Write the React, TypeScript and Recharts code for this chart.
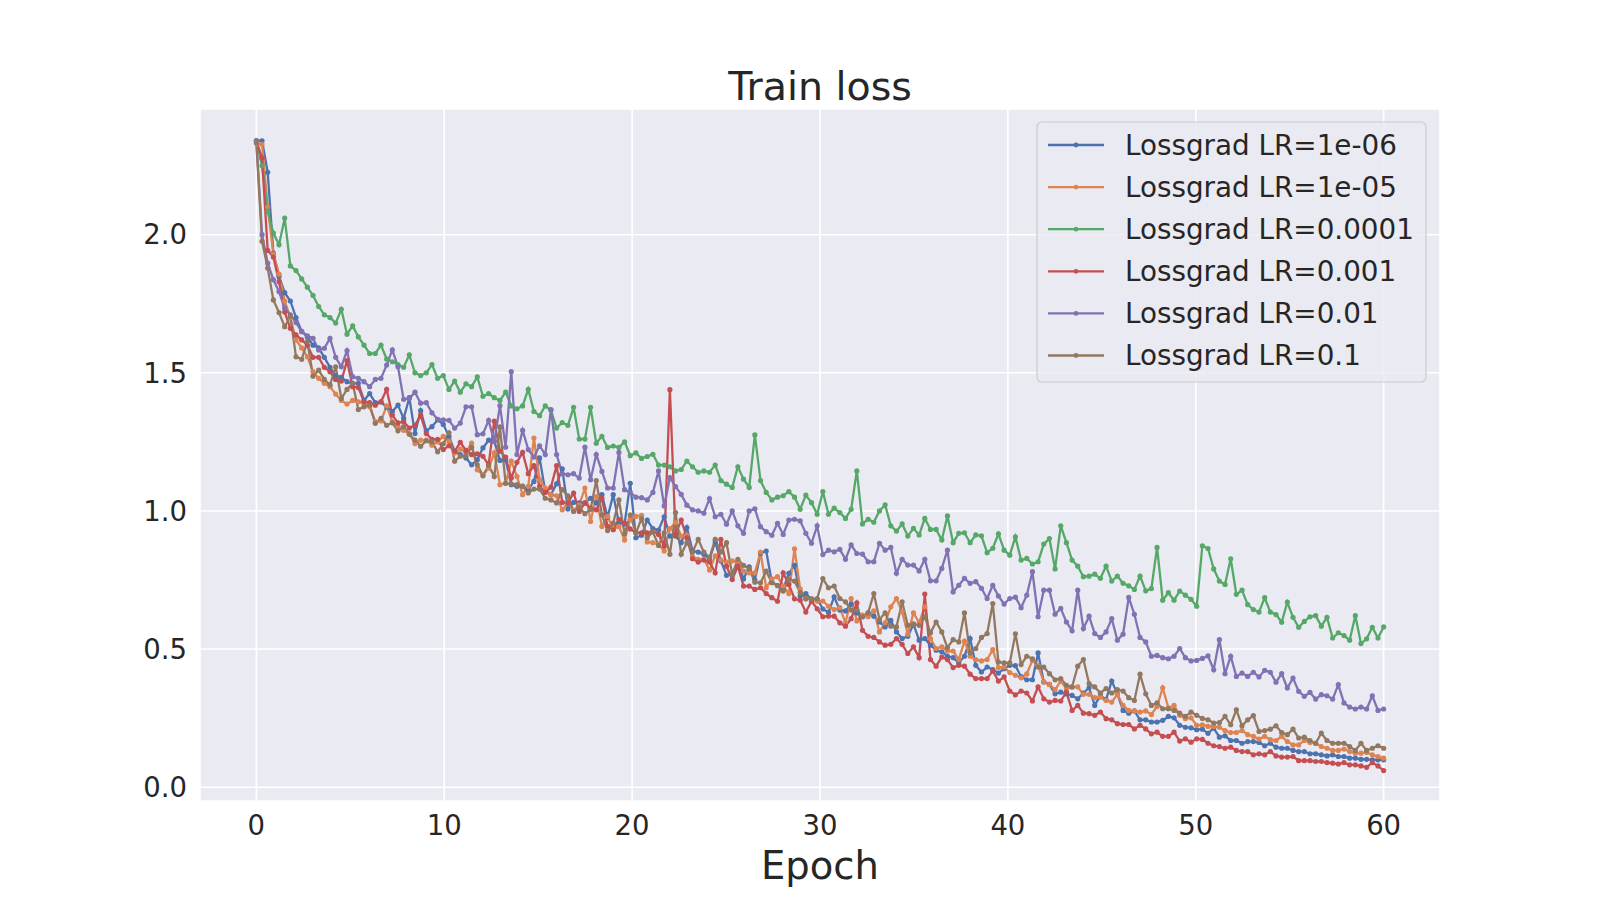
import { LineChart, Line, XAxis, YAxis, CartesianGrid } from 'recharts';

// train loss per logging step (200 steps over 60 epochs)
const lossLr1e6 = [
	2.34, 2.34, 2.226, 1.933, 1.85, 1.79, 1.76, 1.7, 1.65, 1.63,
	1.6, 1.59, 1.556, 1.52, 1.49, 1.484, 1.468, 1.462, 1.462, 1.4,
	1.425, 1.392, 1.395, 1.375, 1.36, 1.383, 1.335, 1.41, 1.28, 1.363,
	1.29, 1.305, 1.33, 1.313, 1.27, 1.216, 1.204, 1.192, 1.167, 1.185,
	1.228, 1.256, 1.252, 1.183, 1.185, 1.095, 1.089, 1.09, 1.077, 1.107,
	1.192, 1.071, 1.059, 1.098, 1.152, 1.007, 1.031, 1.029, 1.029, 1.046,
	1.029, 1.059, 0.977, 1.059, 0.956, 0.953, 1.1, 0.903, 0.912, 0.967,
	0.936, 0.931, 0.979, 0.909, 0.909, 0.885, 0.94, 0.855, 0.851, 0.843,
	0.827, 0.888, 0.819, 0.767, 0.77, 0.815, 0.754, 0.798, 0.75, 0.846,
	0.855, 0.742, 0.73, 0.716, 0.774, 0.803, 0.692, 0.701, 0.679, 0.682,
	0.645, 0.633, 0.689, 0.641, 0.638, 0.663, 0.631, 0.617, 0.631, 0.619,
	0.598, 0.58, 0.604, 0.562, 0.538, 0.546, 0.59, 0.532, 0.538, 0.514,
	0.496, 0.49, 0.474, 0.469, 0.45, 0.474, 0.538, 0.441, 0.417, 0.435,
	0.426, 0.413, 0.429, 0.441, 0.44, 0.4, 0.389, 0.389, 0.486, 0.381,
	0.372, 0.338, 0.344, 0.338, 0.332, 0.32, 0.341, 0.36, 0.296, 0.332,
	0.317, 0.384, 0.338, 0.278, 0.268, 0.276, 0.244, 0.244, 0.236, 0.236,
	0.242, 0.256, 0.251, 0.224, 0.217, 0.215, 0.208, 0.21, 0.195, 0.214,
	0.181, 0.186, 0.169, 0.169, 0.159, 0.165, 0.165, 0.162, 0.15, 0.159,
	0.145, 0.141, 0.141, 0.133, 0.129, 0.129, 0.121, 0.121, 0.117, 0.113,
	0.117, 0.111, 0.111, 0.105, 0.105, 0.101, 0.101, 0.099, 0.099, 0.099
];

const lossLr1e5 = [
	2.33, 2.327, 2.1, 1.93, 1.857, 1.76, 1.7, 1.619, 1.59, 1.558,
	1.504, 1.48, 1.462, 1.45, 1.423, 1.4, 1.387, 1.4, 1.395, 1.39,
	1.377, 1.323, 1.326, 1.38, 1.323, 1.305, 1.292, 1.28, 1.244, 1.256,
	1.256, 1.238, 1.25, 1.27, 1.252, 1.21, 1.224, 1.212, 1.246, 1.149,
	1.131, 1.155, 1.21, 1.095, 1.1, 1.18, 1.125, 1.059, 1.089, 1.264,
	1.113, 1.083, 1.059, 1.055, 1.004, 1.029, 1.002, 1.022, 1.083, 0.962,
	1.052, 0.944, 0.98, 0.934, 0.944, 0.895, 0.97, 0.98, 0.984, 0.888,
	0.885, 0.879, 0.855, 0.936, 0.958, 0.909, 0.912, 0.834, 0.825, 0.825,
	0.786, 0.837, 0.822, 0.815, 0.819, 0.815, 0.782, 0.776, 0.776, 0.851,
	0.722, 0.754, 0.762, 0.728, 0.701, 0.863, 0.718, 0.682, 0.682, 0.673,
	0.674, 0.655, 0.643, 0.65, 0.595, 0.683, 0.602, 0.623, 0.617, 0.638,
	0.562, 0.595, 0.653, 0.683, 0.635, 0.554, 0.631, 0.595, 0.653, 0.538,
	0.502, 0.508, 0.493, 0.493, 0.462, 0.529, 0.474, 0.462, 0.457, 0.462,
	0.498, 0.433, 0.435, 0.415, 0.405, 0.396, 0.41, 0.459, 0.44, 0.381,
	0.372, 0.353, 0.384, 0.357, 0.363, 0.363, 0.336, 0.336, 0.324, 0.326,
	0.314, 0.308, 0.336, 0.296, 0.278, 0.276, 0.272, 0.276, 0.263, 0.292,
	0.36, 0.287, 0.296, 0.26, 0.248, 0.251, 0.224, 0.226, 0.22, 0.22,
	0.217, 0.205, 0.198, 0.198, 0.205, 0.19, 0.184, 0.174, 0.184, 0.172,
	0.169, 0.184, 0.165, 0.153, 0.153, 0.169, 0.162, 0.159, 0.147, 0.141,
	0.133, 0.133, 0.138, 0.129, 0.123, 0.123, 0.126, 0.117, 0.111, 0.105
];

const lossLr1e4 = [
	2.34, 2.25, 2.085, 2.006, 1.964, 2.06, 1.887, 1.87, 1.84, 1.81,
	1.78, 1.74, 1.71, 1.7, 1.68, 1.73, 1.64, 1.67, 1.63, 1.6,
	1.57, 1.57, 1.6, 1.55, 1.54, 1.53, 1.52, 1.565, 1.5, 1.49,
	1.5, 1.53, 1.48, 1.49, 1.44, 1.47, 1.43, 1.46, 1.45, 1.485,
	1.415, 1.425, 1.41, 1.4, 1.43, 1.38, 1.37, 1.38, 1.44, 1.36,
	1.345, 1.38, 1.365, 1.3, 1.32, 1.31, 1.375, 1.26, 1.26, 1.375,
	1.245, 1.27, 1.23, 1.235, 1.23, 1.25, 1.2, 1.21, 1.19, 1.197,
	1.205, 1.166, 1.166, 1.16, 1.145, 1.15, 1.18, 1.16, 1.14, 1.145,
	1.14, 1.166, 1.11, 1.097, 1.085, 1.16, 1.115, 1.085, 1.275, 1.11,
	1.067, 1.04, 1.05, 1.055, 1.07, 1.05, 1.006, 1.057, 1.03, 0.988,
	1.07, 0.988, 1.01, 0.994, 0.973, 1.006, 1.145, 0.953, 0.97, 0.959,
	1.0, 1.022, 0.946, 0.927, 0.953, 0.909, 0.937, 0.913, 0.973, 0.933,
	0.933, 0.895, 0.982, 0.885, 0.919, 0.921, 0.885, 0.913, 0.91, 0.849,
	0.865, 0.917, 0.858, 0.84, 0.906, 0.822, 0.828, 0.808, 0.816, 0.88,
	0.9, 0.79, 0.946, 0.885, 0.822, 0.8, 0.762, 0.764, 0.771, 0.756,
	0.8, 0.746, 0.764, 0.738, 0.729, 0.716, 0.764, 0.711, 0.719, 0.868,
	0.677, 0.704, 0.677, 0.71, 0.695, 0.68, 0.655, 0.874, 0.864, 0.79,
	0.746, 0.734, 0.827, 0.698, 0.713, 0.661, 0.643, 0.634, 0.686, 0.634,
	0.625, 0.597, 0.67, 0.615, 0.579, 0.6, 0.617, 0.621, 0.583, 0.615,
	0.54, 0.559, 0.549, 0.532, 0.621, 0.52, 0.537, 0.579, 0.54, 0.58
];

const lossLr1e3 = [
	2.34, 2.278, 1.943, 1.919, 1.83, 1.72, 1.661, 1.637, 1.619, 1.6,
	1.556, 1.556, 1.52, 1.504, 1.476, 1.47, 1.544, 1.45, 1.447, 1.395,
	1.392, 1.383, 1.395, 1.44, 1.347, 1.319, 1.323, 1.3, 1.31, 1.347,
	1.28, 1.259, 1.259, 1.222, 1.236, 1.216, 1.248, 1.219, 1.204, 1.207,
	1.198, 1.167, 1.325, 1.216, 1.195, 1.119, 1.176, 1.212, 1.135, 1.164,
	1.089, 1.067, 1.086, 1.164, 1.031, 1.029, 1.065, 0.998, 1.029, 1.01,
	1.004, 1.046, 0.944, 0.932, 0.97, 0.956, 0.935, 0.921, 0.921, 0.921,
	0.927, 0.915, 0.873, 1.439, 0.915, 0.967, 0.903, 0.827, 0.815, 0.822,
	0.815, 0.776, 0.897, 0.8, 0.752, 0.8, 0.728, 0.728, 0.716, 0.722,
	0.701, 0.686, 0.673, 0.776, 0.734, 0.682, 0.677, 0.634, 0.673, 0.646,
	0.617, 0.619, 0.619, 0.595, 0.583, 0.61, 0.667, 0.568, 0.546, 0.542,
	0.526, 0.514, 0.517, 0.538, 0.517, 0.484, 0.508, 0.469, 0.699, 0.462,
	0.438, 0.471, 0.462, 0.433, 0.441, 0.438, 0.409, 0.393, 0.393, 0.393,
	0.421, 0.384, 0.399, 0.348, 0.334, 0.348, 0.341, 0.312, 0.363, 0.32,
	0.308, 0.314, 0.312, 0.344, 0.278, 0.296, 0.268, 0.266, 0.26, 0.272,
	0.248, 0.244, 0.23, 0.227, 0.227, 0.211, 0.224, 0.211, 0.193, 0.199,
	0.184, 0.184, 0.199, 0.167, 0.175, 0.163, 0.175, 0.173, 0.159, 0.15,
	0.147, 0.141, 0.145, 0.133, 0.129, 0.129, 0.117, 0.121, 0.117, 0.129,
	0.113, 0.109, 0.109, 0.111, 0.096, 0.096, 0.096, 0.093, 0.093, 0.089,
	0.087, 0.084, 0.089, 0.081, 0.081, 0.077, 0.072, 0.089, 0.077, 0.06
];

const lossLr1e2 = [
	2.34, 2.0, 1.897, 1.837, 1.794, 1.734, 1.71, 1.682, 1.649, 1.634,
	1.625, 1.583, 1.589, 1.625, 1.556, 1.522, 1.58, 1.486, 1.48, 1.468,
	1.45, 1.476, 1.48, 1.528, 1.583, 1.522, 1.404, 1.407, 1.43, 1.39,
	1.392, 1.355, 1.332, 1.33, 1.328, 1.3, 1.318, 1.377, 1.377, 1.276,
	1.279, 1.328, 1.252, 1.381, 1.231, 1.504, 1.204, 1.292, 1.222, 1.195,
	1.236, 1.204, 1.367, 1.204, 1.135, 1.131, 1.135, 1.119, 1.231, 1.113,
	1.204, 1.143, 1.083, 1.083, 1.212, 1.077, 1.067, 1.05, 1.048, 1.04,
	1.067, 1.145, 1.018, 1.121, 1.088, 1.06, 1.021, 1.004, 1.0, 0.992,
	1.045, 0.979, 0.988, 0.952, 1.0, 0.946, 0.919, 1.0, 1.008, 0.943,
	0.925, 0.912, 0.955, 0.915, 0.967, 0.97, 0.964, 0.919, 0.883, 0.946,
	0.842, 0.858, 0.852, 0.861, 0.825, 0.877, 0.846, 0.844, 0.816, 0.816,
	0.883, 0.858, 0.868, 0.774, 0.825, 0.804, 0.804, 0.783, 0.825, 0.747,
	0.747, 0.792, 0.858, 0.707, 0.731, 0.756, 0.738, 0.744, 0.72, 0.683,
	0.731, 0.692, 0.663, 0.683, 0.688, 0.65, 0.695, 0.78, 0.617, 0.713,
	0.713, 0.626, 0.647, 0.598, 0.566, 0.713, 0.574, 0.619, 0.556, 0.542,
	0.562, 0.61, 0.532, 0.554, 0.687, 0.626, 0.542, 0.526, 0.474, 0.477,
	0.469, 0.465, 0.474, 0.502, 0.469, 0.457, 0.459, 0.466, 0.475, 0.425,
	0.534, 0.411, 0.474, 0.401, 0.413, 0.401, 0.416, 0.399, 0.423, 0.416,
	0.38, 0.411, 0.359, 0.395, 0.347, 0.329, 0.343, 0.319, 0.335, 0.331,
	0.319, 0.371, 0.305, 0.29, 0.283, 0.29, 0.283, 0.331, 0.278, 0.283
];

const lossLr1e1 = [
	2.333, 1.976, 1.879, 1.764, 1.718, 1.667, 1.704, 1.558, 1.549, 1.613,
	1.488, 1.51, 1.476, 1.456, 1.522, 1.407, 1.44, 1.462, 1.367, 1.377,
	1.383, 1.317, 1.335, 1.31, 1.319, 1.29, 1.305, 1.278, 1.256, 1.234,
	1.254, 1.25, 1.214, 1.243, 1.283, 1.18, 1.198, 1.2, 1.231, 1.167,
	1.127, 1.164, 1.125, 1.304, 1.1, 1.098, 1.095, 1.089, 1.065, 1.079,
	1.079, 1.046, 1.04, 1.029, 1.077, 1.055, 0.998, 1.014, 0.99, 1.006,
	1.11, 0.986, 0.929, 0.956, 1.04, 0.917, 0.985, 0.92, 0.972, 0.903,
	0.924, 0.875, 0.921, 0.843, 0.994, 0.843, 0.885, 0.851, 0.897, 0.851,
	0.831, 0.897, 0.851, 0.885, 0.77, 0.825, 0.803, 0.791, 0.742, 0.74,
	0.782, 0.74, 0.73, 0.71, 0.754, 0.746, 0.704, 0.682, 0.682, 0.682,
	0.755, 0.722, 0.728, 0.683, 0.671, 0.641, 0.641, 0.617, 0.631, 0.701,
	0.607, 0.631, 0.583, 0.58, 0.671, 0.586, 0.59, 0.586, 0.617, 0.559,
	0.598, 0.562, 0.505, 0.534, 0.526, 0.631, 0.486, 0.502, 0.542, 0.556,
	0.665, 0.453, 0.45, 0.45, 0.555, 0.444, 0.474, 0.465, 0.435, 0.435,
	0.411, 0.389, 0.393, 0.369, 0.363, 0.438, 0.462, 0.375, 0.363, 0.341,
	0.357, 0.341, 0.353, 0.348, 0.324, 0.314, 0.409, 0.338, 0.296, 0.305,
	0.284, 0.284, 0.278, 0.268, 0.256, 0.272, 0.26, 0.249, 0.244, 0.232,
	0.234, 0.256, 0.226, 0.28, 0.222, 0.244, 0.259, 0.202, 0.205, 0.21,
	0.222, 0.198, 0.19, 0.21, 0.178, 0.181, 0.169, 0.159, 0.196, 0.169,
	0.159, 0.159, 0.159, 0.147, 0.133, 0.159, 0.133, 0.141, 0.15, 0.141
];

const xTicks = [0, 10, 20, 30, 40, 50, 60];
const yTicks = [0, 0.5, 1, 1.5, 2];

const series = [
	{ key: 'lr1e6', name: 'Lossgrad LR=1e-06', color: '#4C72B0', values: lossLr1e6 },
	{ key: 'lr1e5', name: 'Lossgrad LR=1e-05', color: '#DD8452', values: lossLr1e5 },
	{ key: 'lr1e4', name: 'Lossgrad LR=0.0001', color: '#55A868', values: lossLr1e4 },
	{ key: 'lr1e3', name: 'Lossgrad LR=0.001', color: '#C44E52', values: lossLr1e3 },
	{ key: 'lr1e2', name: 'Lossgrad LR=0.01', color: '#8172B3', values: lossLr1e2 },
	{ key: 'lr1e1', name: 'Lossgrad LR=0.1', color: '#937860', values: lossLr1e1 }
];

// logged steps are evenly spaced from epoch 0 to 60
const epochs = lossLr1e6.map((_, i) => (i * 60) / 199);

const data = epochs.map((epoch, i) => {
	const row: Record<string, number> = { epoch };
	series.forEach((s) => {
		row[s.key] = s.values[i];
	});
	return row;
});

const textColor = '#262626';
const font = 'DejaVu Sans';

const App = () => {
	return (
		<div
			style={{
				position: 'absolute',
				top: 0,
				left: 0,
				width: 1600,
				height: 900,
				background: '#ffffff',
				fontFamily: font
			}}
		>
			<LineChart
				width={1600}
				height={900}
				data={data}
				margin={{ top: 109, right: 160, bottom: 39, left: 120 }}
			>
				<CartesianGrid fill='#EAEAF2' stroke='#FFFFFF' strokeWidth={1.6} />
				<XAxis
					dataKey='epoch'
					type='number'
					domain={[-3, 63]}
					ticks={xTicks}
					height={60}
					axisLine={false}
					tickLine={false}
					tickSize={0}
					tickMargin={14}
					tick={{ fill: textColor, fontSize: 27.5, fontFamily: font }}
				/>
				<YAxis
					type='number'
					domain={[-0.05, 2.455]}
					ticks={yTicks}
					width={80}
					axisLine={false}
					tickLine={false}
					tickSize={0}
					tickMargin={13}
					tickFormatter={(v: number) => v.toFixed(1)}
					tick={{ fill: textColor, fontSize: 27.5, fontFamily: font }}
				/>
				{series.map((s) => (
					<Line
						key={s.key}
						type='linear'
						dataKey={s.key}
						name={s.name}
						stroke={s.color}
						strokeWidth={2.3}
						dot={{ r: 2.6, fill: s.color, stroke: s.color, strokeWidth: 0 }}
						activeDot={false}
						isAnimationActive={false}
					/>
				))}
			</LineChart>
			<svg
				width={1600}
				height={900}
				style={{ position: 'absolute', top: 0, left: 0, pointerEvents: 'none' }}
			>
				<text x={820} y={100} textAnchor='middle' fontSize={39.5} fill={textColor} fontFamily={font}>
					Train loss
				</text>
				<text x={820} y={879} textAnchor='middle' fontSize={38.5} fill={textColor} fontFamily={font}>
					Epoch
				</text>
				<rect
					x={1037}
					y={122}
					width={389}
					height={260}
					rx={5}
					fill='rgba(234,234,242,0.8)'
					stroke='#CCCCCC'
					strokeWidth={1.2}
				/>
				{series.map((s, k) => {
					const y = 145 + k * 42.1;
					return (
						<g key={s.key}>
							<line x1={1048} x2={1104} y1={y} y2={y} stroke={s.color} strokeWidth={2.3} />
							<circle cx={1076} cy={y} r={2.4} fill={s.color} />
							<text
								x={1125}
								y={y}
								dominantBaseline='central'
								fontSize={27.8}
								fill={textColor}
								fontFamily={font}
							>
								{s.name}
							</text>
						</g>
					);
				})}
			</svg>
		</div>
	);
};

export default App;
